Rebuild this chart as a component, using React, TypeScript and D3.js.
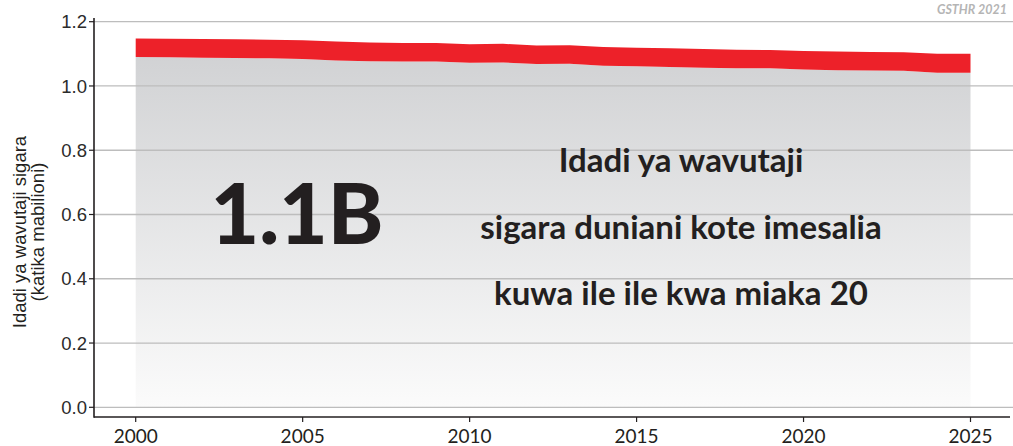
import React from "react";
import * as d3 from "d3";

const years = [2000, 2001, 2002, 2003, 2004, 2005, 2006, 2007, 2008, 2009, 2010, 2011, 2012, 2013, 2014, 2015, 2016, 2017, 2018, 2019, 2020, 2021, 2022, 2023, 2024, 2025];
const lowerValues = [1.090, 1.089, 1.088, 1.087, 1.086, 1.084, 1.079, 1.077, 1.076, 1.076, 1.072, 1.073, 1.068, 1.069, 1.063, 1.061, 1.059, 1.057, 1.055, 1.055, 1.051, 1.049, 1.048, 1.047, 1.041, 1.041];
const upperValues = [1.148, 1.147, 1.146, 1.145, 1.144, 1.142, 1.138, 1.135, 1.134, 1.134, 1.130, 1.131, 1.126, 1.127, 1.121, 1.119, 1.117, 1.115, 1.113, 1.112, 1.109, 1.107, 1.106, 1.105, 1.100, 1.100];
const yTicks = [0, 0.2, 0.4, 0.6, 0.8, 1.0, 1.2];
const xTicks = [2000, 2005, 2010, 2015, 2020, 2025];
const bigLabel = "1.1B";
const messageLines = ["Idadi ya wavutaji", "sigara duniani kote imesalia", "kuwa ile ile kwa miaka 20"];
const yTitleLines = ["Idadi ya wavutaji sigara", "(katika mabilioni)"];
const sourceLabel = "GSTHR 2021";

export default function App() {
  const W = 1013, H = 446;
  const x = d3.scaleLinear().domain([2000, 2025]).range([135.7, 970.5]);
  const y = d3.scaleLinear().domain([0, 1.2]).range([407.3, 21.7]);
  const data = years.map((yr, i) => ({ yr, lo: lowerValues[i], hi: upperValues[i] }));
  const greyArea = d3.area<any>().x(d => x(d.yr)).y0(y(0)).y1(d => y(d.lo));
  const redArea = d3.area<any>().x(d => x(d.yr)).y0(d => y(d.lo)).y1(d => y(d.hi));
  const axisX = 94;
  const axisY = 417;
  return (
    <div style={{ position: "absolute", left: 0, top: 0 }}>
      <svg width={W} height={H} style={{ display: "block" }}>
        <defs>
          <linearGradient id="greyGrad" x1="0" y1={y(1.1)} x2="0" y2={y(0)} gradientUnits="userSpaceOnUse">
            <stop offset="0" stopColor="#d1d2d4" />
            <stop offset="1" stopColor="#fbfbfb" />
          </linearGradient>
        </defs>
        <rect width={W} height={H} fill="#fff" />
        <path d={greyArea(data) || ""} fill="url(#greyGrad)" />
        {yTicks.map(t => (
          <line key={t} x1={axisX} x2={1013} y1={y(t)} y2={y(t)} stroke="#bdbdbd" strokeWidth={1.3} />
        ))}
        <path d={redArea(data) || ""} fill="#ed2129" />
        <line x1={axisX} x2={axisX} y1={18} y2={axisY + 0.8} stroke="#231f20" strokeWidth={1.6} />
        <line x1={axisX} x2={1010} y1={axisY} y2={axisY} stroke="#231f20" strokeWidth={1.6} />
        {yTicks.map(t => (
          <g key={t}>
            <line x1={axisX - 5} x2={axisX} y1={y(t)} y2={y(t)} stroke="#231f20" strokeWidth={1.2} />
            <text x={axisX - 7} y={y(t)} dy="0.36em" textAnchor="end" fontFamily="Liberation Sans, Arial, sans-serif" fontSize={18.5} fill="#2b2b2b">{t.toFixed(1)}</text>
          </g>
        ))}
        {xTicks.map(t => (
          <g key={t}>
            <line x1={x(t)} x2={x(t)} y1={axisY} y2={axisY + 5} stroke="#231f20" strokeWidth={1.2} />
            <text x={x(t)} y={443} textAnchor="middle" fontFamily="Lato, sans-serif" fontSize={19} fill="#231f20">{t}</text>
          </g>
        ))}
        <g transform="translate(26,232) rotate(-90)">
          {yTitleLines.map((l, i) => (
            <text key={i} x={0} y={i * 18} textAnchor="middle" fontFamily="Liberation Sans, Arial, sans-serif" fontSize={18.5} fill="#231f20">{l}</text>
          ))}
        </g>
        <text x={297} y={244} textAnchor="middle" fontFamily="Lato, sans-serif" fontWeight={900} fontSize={84} fill="#231f20">{bigLabel}</text>
        {messageLines.map((l, i) => (
          <text key={i} x={681} y={172 + i * 66.5} textAnchor="middle" fontFamily="Lato, sans-serif" fontWeight={700} fontSize={33} fill="#231f20">{l}</text>
        ))}
        <text x={1007} y={14} textAnchor="end" fontFamily="Lato, sans-serif" fontWeight={700} fontStyle="italic" fontSize={12.5} fill="#b5b5b5">{sourceLabel}</text>
      </svg>
    </div>
  );
}
